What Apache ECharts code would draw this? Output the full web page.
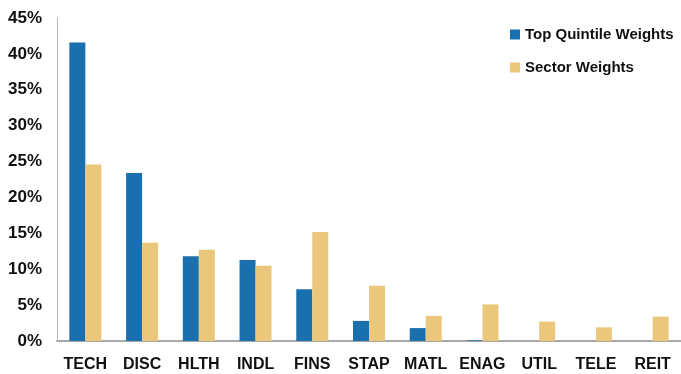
<!DOCTYPE html>
<html><head><meta charset="utf-8">
<script src="https://cdn.jsdelivr.net/npm/echarts@6/dist/echarts.min.js"></script>
<style>html,body{margin:0;padding:0;background:#fff}#c{width:681px;height:374px}</style>
</head><body><div id="c"></div>
<script>
const categories = ['TECH','DISC','HLTH','INDL','FINS','STAP','MATL','ENAG','UTIL','TELE','REIT'];
const topQuintile = [41.6, 23.4, 11.8, 11.3, 7.2, 2.8, 1.8, 0.1, 0, 0, 0];
const sectorWeights = [24.6, 13.7, 12.7, 10.5, 15.2, 7.7, 3.5, 5.1, 2.7, 1.9, 3.4];
const yTicks = [0, 5, 10, 15, 20, 25, 30, 35, 40, 45];

const chart = echarts.init(document.getElementById('c'));
chart.setOption({
  animation: false,
  grid: { left: 57, top: 18, width: 627, bottom: 33, containLabel: false },
  legend: {
    orient: 'vertical', left: 505, top: 22, itemWidth: 10, itemHeight: 10, itemGap: 18,
    icon: 'rect',
    textStyle: { fontFamily: 'Liberation Sans, Arial', fontWeight: 'bold', fontSize: 15, color: '#111' },
    data: ['Top Quintile Weights', 'Sector Weights']
  },
  xAxis: {
    type: 'category', data: categories,
    axisLine: { lineStyle: { color: '#a8a8a8', width: 2 } },
    axisTick: { show: false },
    axisLabel: { fontFamily: 'Liberation Sans, Arial', fontWeight: 'bold', fontSize: 16, color: '#111', margin: 16, interval: 0 }
  },
  yAxis: {
    type: 'value', min: yTicks[0], max: yTicks[yTicks.length - 1], interval: 5,
    axisLine: { show: true, lineStyle: { color: '#b8b8b8', width: 1 } },
    axisTick: { show: false },
    splitLine: { show: false },
    axisLabel: { fontFamily: 'Liberation Sans, Arial', fontWeight: 'bold', fontSize: 17, color: '#111', margin: 15, formatter: '{value}%' }
  },
  series: [
    { name: 'Top Quintile Weights', type: 'bar', data: topQuintile, barWidth: 16, barGap: '0%',
      itemStyle: { color: '#1a6fae' } },
    { name: 'Sector Weights', type: 'bar', data: sectorWeights, barWidth: 16, barGap: '0%',
      itemStyle: { color: '#eac77a' } }
  ]
});
</script></body></html>
